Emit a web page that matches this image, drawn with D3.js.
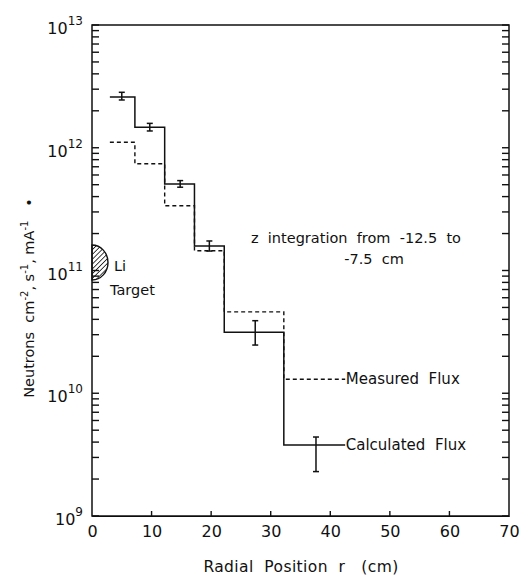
<!DOCTYPE html>
<html>
<head>
<meta charset="utf-8">
<script src="https://cdn.jsdelivr.net/npm/d3@7"></script>
<style>
  body { margin: 0; background: #fff; }
  svg { display: block; }
  text { font-family: "DejaVu Sans", sans-serif; fill: #111; white-space: pre; }
</style>
</head>
<body>
<div id="chart"></div>
<script>
// bin edges in cm (last value is where the leader to the label ends)
const binEdges = [3, 7.2, 12.2, 17.2, 22.2, 32.2, 42.5];
const calculatedFlux = [2.59e12, 1.47e12, 5.07e11, 1.58e11, 3.14e10, 3.78e9];
const measuredFlux = [1.11e12, 7.4e11, 3.37e11, 1.45e11, 4.6e10, 1.3e10];
// error bars on calculated flux
const errorX = [5, 9.7, 14.8, 19.7, 27.4, 37.6];
const errorLow = [2.45e12, 1.37e12, 4.77e11, 1.44e11, 2.47e10, 2.3e9];
const errorHigh = [2.83e12, 1.58e12, 5.4e11, 1.74e11, 3.9e10, 4.4e9];
const xTicks = [0, 10, 20, 30, 40, 50, 60, 70];
const yDecades = [9, 10, 11, 12, 13];

const width = 520, height = 575;
const margin = { top: 25, right: 11, bottom: 59, left: 92 };

const svg = d3
  .select("#chart")
  .append("svg")
  .attr("width", width)
  .attr("height", height);

const x = d3
  .scaleLinear()
  .domain([0, 70])
  .range([margin.left, width - margin.right]);

const y = d3
  .scaleLog()
  .domain([1e9, 1e13])
  .range([height - margin.bottom, margin.top]);

// minor + major ticks for log axis
const yTickValues = [];
yDecades.forEach((e) => {
  for (let m = 1; m <= 9; m++) {
    const v = m * Math.pow(10, e);
    if (v <= 1e13) yTickValues.push(v);
  }
});

// bottom axis (labels + baseline)
const xAxis = svg
  .append("g")
  .attr("transform", "translate(0," + (height - margin.bottom) + ")")
  .call(d3.axisBottom(x).tickValues(xTicks).tickSize(0).tickPadding(10));
xAxis.selectAll(".tick text").attr("font-size", 16).attr("font-family", "DejaVu Sans");
xAxis.selectAll(".tick line").remove();

// frame
const frame = svg.append("g").attr("stroke", "#111").attr("fill", "none");
frame
  .append("rect")
  .attr("x", x(0))
  .attr("y", y(1e13))
  .attr("width", x(70) - x(0))
  .attr("height", y(1e9) - y(1e13))
  .attr("stroke-width", 1.5);

// inward tick marks
const tickG = svg.append("g").attr("stroke", "#111").attr("stroke-width", 1.4);
tickG
  .selectAll("line.yl")
  .data(yTickValues)
  .join("line")
  .attr("class", "yl")
  .attr("x1", x(0))
  .attr("x2", x(0) + 7)
  .attr("y1", (d) => y(d))
  .attr("y2", (d) => y(d));
tickG
  .selectAll("line.yr")
  .data(yTickValues)
  .join("line")
  .attr("class", "yr")
  .attr("x1", x(70))
  .attr("x2", x(70) - 7)
  .attr("y1", (d) => y(d))
  .attr("y2", (d) => y(d));
tickG
  .selectAll("line.xb")
  .data(xTicks.slice(1, -1))
  .join("line")
  .attr("class", "xb")
  .attr("x1", (d) => x(d))
  .attr("x2", (d) => x(d))
  .attr("y1", y(1e9))
  .attr("y2", y(1e9) - 5);

// y decade labels 10^n
const yLabels = svg
  .append("g")
  .selectAll("text")
  .data(yDecades)
  .join("text")
  .attr("x", margin.left - 9)
  .attr("y", (d) => y(Math.pow(10, d)) + 9)
  .attr("text-anchor", "end")
  .attr("font-size", 16);
yLabels.append("tspan").text("10");
yLabels
  .append("tspan")
  .attr("dy", -9)
  .attr("font-size", 12)
  .text((d) => d);

// step lines
const stepLine = d3
  .line()
  .x((d) => x(d[0]))
  .y((d) => y(d[1]))
  .curve(d3.curveStepAfter);

function stepPoints(values) {
  const pts = values.map((v, i) => [binEdges[i], v]);
  pts.push([binEdges[binEdges.length - 1], values[values.length - 1]]);
  return pts;
}

svg
  .append("path")
  .attr("d", stepLine(stepPoints(measuredFlux)))
  .attr("fill", "none")
  .attr("stroke", "#111")
  .attr("stroke-width", 1.4)
  .attr("stroke-dasharray", "4,3");

svg
  .append("path")
  .attr("d", stepLine(stepPoints(calculatedFlux)))
  .attr("fill", "none")
  .attr("stroke", "#111")
  .attr("stroke-width", 1.5);

// error bars
const errs = svg
  .append("g")
  .selectAll("g")
  .data(errorX.map((d, i) => ({ x: d, lo: errorLow[i], hi: errorHigh[i] })))
  .join("g")
  .attr("stroke", "#111")
  .attr("stroke-width", 1.5);
errs
  .append("line")
  .attr("x1", (d) => x(d.x))
  .attr("x2", (d) => x(d.x))
  .attr("y1", (d) => y(d.lo))
  .attr("y2", (d) => y(d.hi));
errs
  .append("line")
  .attr("x1", (d) => x(d.x) - 3)
  .attr("x2", (d) => x(d.x) + 3)
  .attr("y1", (d) => y(d.lo))
  .attr("y2", (d) => y(d.lo));
errs
  .append("line")
  .attr("x1", (d) => x(d.x) - 3)
  .attr("x2", (d) => x(d.x) + 3)
  .attr("y1", (d) => y(d.hi))
  .attr("y2", (d) => y(d.hi));

// series labels
svg
  .append("text")
  .attr("x", x(42.6))
  .attr("y", y(measuredFlux[5]) + 5)
  .attr("font-size", 15)
  .text("Measured  Flux");
svg
  .append("text")
  .attr("x", x(42.6))
  .attr("y", y(calculatedFlux[5]) + 5)
  .attr("font-size", 15)
  .text("Calculated  Flux");

// annotation
const note = svg
  .append("text")
  .attr("y", 243)
  .attr("text-anchor", "middle")
  .attr("font-size", 14.5);
note.append("tspan").attr("x", 356).text("z  integration  from  -12.5  to");
note.append("tspan").attr("x", 374).attr("dy", 21).text("-7.5  cm");

// Li target (hatched half disc)
const defs = svg.append("defs");
const hatch = defs
  .append("pattern")
  .attr("id", "hatch")
  .attr("patternUnits", "userSpaceOnUse")
  .attr("width", 3.4)
  .attr("height", 3.4)
  .attr("patternTransform", "rotate(45)");
hatch
  .append("line")
  .attr("x1", 0)
  .attr("y1", 0)
  .attr("x2", 0)
  .attr("y2", 3.4)
  .attr("stroke", "#111")
  .attr("stroke-width", 1.6);

const tx = x(0), ty = 262.5, rx = 16, ry = 17.5;
svg
  .append("path")
  .attr(
    "d",
    "M" + tx + "," + (ty - ry) +
      " A" + rx + "," + ry + " 0 0 1 " + tx + "," + (ty + ry) + " Z"
  )
  .attr("fill", "url(#hatch)")
  .attr("stroke", "#111")
  .attr("stroke-width", 1.4);

svg
  .append("text")
  .attr("x", 114)
  .attr("y", 271)
  .attr("font-size", 14.5)
  .text("Li");
svg
  .append("text")
  .attr("x", 110)
  .attr("y", 295)
  .attr("font-size", 14.5)
  .text("Target");

// axis titles
svg
  .append("text")
  .attr("x", 301)
  .attr("y", 572)
  .attr("text-anchor", "middle")
  .attr("font-size", 15.5)
  .attr("letter-spacing", 0.4)
  .text("Radial  Position  r   (cm)");

const yTitle = svg
  .append("text")
  .attr("transform", "translate(34,298) rotate(-90)")
  .attr("text-anchor", "middle")
  .attr("font-size", 14.5);
yTitle.append("tspan").text("Neutrons  cm");
yTitle.append("tspan").attr("dy", -6).attr("font-size", 10).text("-2");
yTitle.append("tspan").attr("dy", 6).text(", s");
yTitle.append("tspan").attr("dy", -6).attr("font-size", 10).text("-1");
yTitle.append("tspan").attr("dy", 6).text(", mA");
yTitle.append("tspan").attr("dy", -6).attr("font-size", 10).text("-1");
yTitle.append("tspan").attr("dy", 6).text("   •");
</script>
</body>
</html>
